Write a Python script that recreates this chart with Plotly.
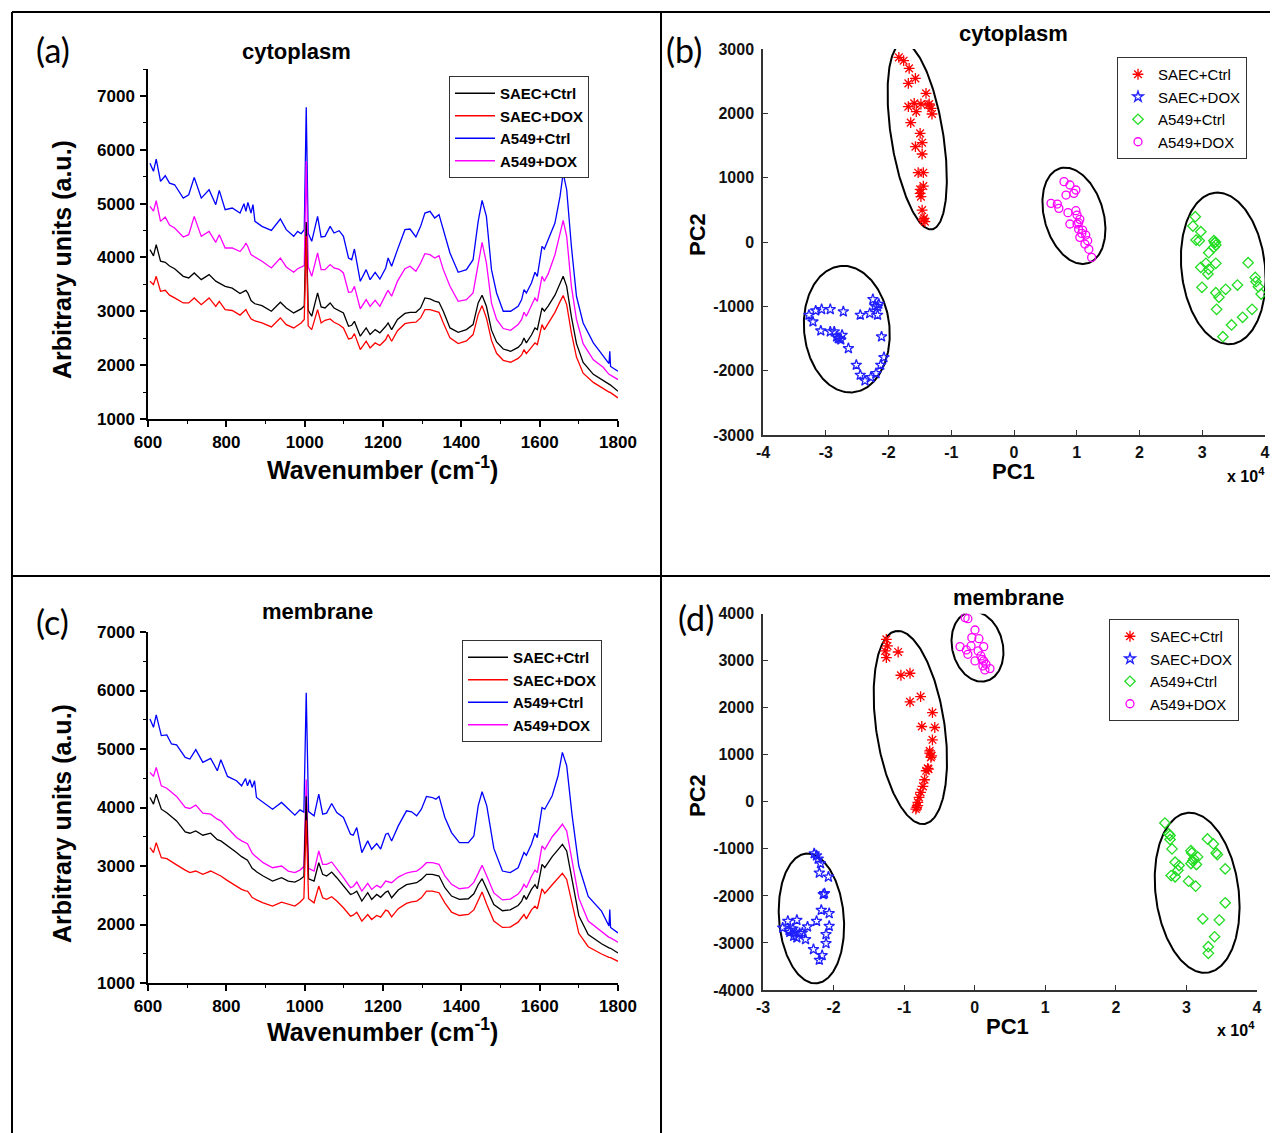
import numpy as np
import plotly.graph_objects as go

# the page shows the figure with an 8 px body margin, so the figure is laid out
# from that origin; all positions below are written as screen pixels.
OFF = 8
FW, FH = 1270, 1125
SANS = "Liberation Sans, Arial, sans-serif"
NARROW = "Liberation Sans Narrow, Liberation Sans, Arial, sans-serif"
LABEL = "Lato, Open Sans, sans-serif"

# ---------------- (a) cytoplasm Raman spectra ----------------
cyto_wn = [605, 614, 621, 632, 644, 655, 668, 690, 704, 718,
           736, 756, 773, 782, 797, 815, 835, 845, 850, 855,
           863, 868, 873, 891, 915, 938, 953, 972, 982, 991,
           999, 1004, 1009, 1018, 1033, 1042, 1052, 1065, 1075, 1088,
           1099, 1112, 1120, 1127, 1142, 1157, 1167, 1180, 1192, 1207,
           1213, 1222, 1237, 1256, 1269, 1284, 1296, 1307, 1320, 1332,
           1343, 1354, 1371, 1392, 1413, 1430, 1443, 1453, 1464, 1477,
           1490, 1507, 1526, 1545, 1554, 1560, 1566, 1579, 1588, 1594,
           1606, 1612, 1622, 1639, 1652, 1660, 1669, 1681, 1694, 1711,
           1737, 1762, 1777, 1779, 1781, 1800]
cyto_a549_ctrl = [5750, 5600, 5827, 5412, 5518, 5381, 5350, 5103, 5165, 5487,
                  5103, 5258, 4980, 5245, 4887, 4918, 4825, 4998, 4857, 5023,
                  4825, 4980, 4670, 4578, 4503, 4714, 4516, 4392, 4485, 4441,
                  4516, 6790, 4450, 4299, 4763, 4380, 4392, 4578, 4454, 4497,
                  4392, 3990, 3959, 4157, 3557, 3774, 3588, 3725, 3600, 3805,
                  3990, 3836, 4145, 4516, 4528, 4380, 4578, 4825, 4857, 4733,
                  4795, 4516, 4083, 3725, 3774, 3959, 4670, 5060, 4763, 3774,
                  3341, 3001, 3001, 3093, 3217, 3403, 3341, 3526, 3725, 3650,
                  4207, 4157, 4330, 4640, 5134, 5567, 5258, 4207, 3279, 2784,
                  2413, 2166, 2030, 2258, 1975, 1887]
cyto_a549_dox = [4950, 4860, 5054, 4670, 4751, 4600, 4547, 4380, 4423, 4763,
                 4392, 4485, 4281, 4423, 4176, 4176, 4110, 4200, 4268, 4200,
                 4052, 4030, 4000, 3930, 3805, 3990, 3824, 3725, 3790, 3824,
                 3850, 5790, 3830, 3650, 4083, 3774, 3774, 3867, 3805, 3780,
                 3712, 3353, 3360, 3464, 3044, 3217, 3093, 3205, 3093, 3310,
                 3390, 3279, 3560, 3790, 3836, 3743, 3898, 4071, 4052, 3990,
                 4034, 3774, 3464, 3186, 3217, 3341, 3898, 4281, 3898, 3150,
                 2850, 2680, 2648, 2753, 2850, 2982, 2908, 3100, 3248, 3186,
                 3650, 3557, 3700, 4050, 4450, 4690, 4392, 3464, 2850, 2400,
                 2100, 1960, 1830, 1825, 1815, 1732]
cyto_saec_ctrl = [4145, 4030, 4238, 3930, 3910, 3840, 3790, 3650, 3619, 3712,
                  3588, 3681, 3560, 3520, 3464, 3430, 3330, 3370, 3390, 3340,
                  3200, 3170, 3140, 3106, 3001, 3168, 3062, 2970, 3010, 3044,
                  3100, 4660, 3020, 2908, 3341, 3081, 3062, 3155, 3062, 3020,
                  2970, 2722, 2740, 2815, 2537, 2691, 2568, 2660, 2600, 2722,
                  2784, 2660, 2850, 2960, 2982, 2982, 3062, 3248, 3230, 3190,
                  3168, 3001, 2691, 2611, 2660, 2753, 3155, 3298, 3093, 2650,
                  2430, 2300, 2258, 2330, 2400, 2506, 2413, 2560, 2691, 2660,
                  3062, 3001, 3100, 3300, 3500, 3650, 3464, 2900, 2400, 2050,
                  1830, 1720, 1640, 1635, 1630, 1516]
cyto_saec_dox = [3557, 3495, 3650, 3372, 3390, 3300, 3250, 3155, 3155, 3248,
                 3124, 3248, 3093, 3186, 3031, 3015, 2930, 2990, 3031, 2960,
                 2860, 2840, 2820, 2784, 2710, 2877, 2753, 2691, 2740, 2784,
                 2850, 4400, 2730, 2660, 3031, 2784, 2834, 2858, 2797, 2750,
                 2691, 2487, 2500, 2586, 2289, 2444, 2320, 2413, 2364, 2475,
                 2568, 2444, 2640, 2770, 2790, 2797, 2877, 3031, 3031, 3000,
                 2982, 2784, 2506, 2401, 2450, 2568, 2939, 3106, 2877, 2460,
                 2220, 2090, 2054, 2125, 2190, 2289, 2215, 2330, 2413, 2382,
                 2753, 2660, 2780, 2980, 3180, 3292, 3124, 2600, 2150, 1850,
                 1680, 1559, 1500, 1497, 1490, 1392]

# ---------------- (c) membrane Raman spectra ----------------
memb_wn = [605, 614, 621, 634, 648, 660, 673, 695, 707, 722,
           740, 760, 777, 786, 803, 826, 839, 849, 854, 860,
           866, 872, 877, 894, 918, 941, 958, 975, 988, 998,
           1004, 1010, 1024, 1036, 1046, 1056, 1069, 1082, 1099, 1117,
           1124, 1133, 1146, 1161, 1171, 1184, 1194, 1207, 1213, 1222,
           1239, 1260, 1273, 1286, 1298, 1311, 1326, 1335, 1343, 1358,
           1375, 1395, 1418, 1432, 1443, 1453, 1465, 1483, 1505, 1525,
           1545, 1554, 1560, 1566, 1579, 1588, 1594, 1606, 1613, 1632,
           1647, 1658, 1669, 1683, 1700, 1724, 1758, 1777, 1779, 1781,
           1800]
memb_a549_ctrl = [5514, 5371, 5583, 5229, 5240, 5086, 5069, 4857, 4829, 4989,
                  4771, 4840, 4629, 4817, 4531, 4457, 4371, 4497, 4371, 4474,
                  4343, 4457, 4171, 4086, 3971, 4086, 3971, 3869, 3960, 3920,
                  5962, 3930, 3857, 4229, 3886, 3903, 4069, 3914, 3829, 3543,
                  3526, 3657, 3229, 3429, 3286, 3383, 3290, 3543, 3560, 3429,
                  3686, 3943, 3926, 3857, 3971, 4189, 4171, 4143, 4189, 3829,
                  3571, 3400, 3400, 3514, 4029, 4269, 4029, 3300, 2914, 2886,
                  2971, 3114, 3229, 3183, 3371, 3560, 3486, 4000, 3971, 4200,
                  4543, 4943, 4714, 3857, 3000, 2480, 2229, 1975, 2257, 1950,
                  1857]
memb_a549_dox = [4600, 4531, 4686, 4371, 4330, 4260, 4189, 4000, 3983, 4040,
                 3903, 3886, 3800, 3771, 3650, 3486, 3430, 3400, 3380, 3300,
                 3220, 3180, 3150, 3057, 2971, 3000, 2914, 2886, 2930, 2990,
                 4480, 2960, 2914, 3257, 3029, 3029, 3069, 2943, 2800, 2629,
                 2650, 2726, 2571, 2703, 2600, 2669, 2630, 2743, 2726, 2714,
                 2810, 2880, 2900, 2914, 2971, 3057, 3057, 3045, 3029, 2829,
                 2686, 2611, 2629, 2720, 2880, 3011, 2829, 2540, 2420, 2435,
                 2520, 2600, 2686, 2629, 2820, 2930, 2886, 3343, 3286, 3500,
                 3620, 3714, 3600, 3050, 2450, 2060, 1870, 1780, 1775, 1770,
                 1697]
memb_saec_ctrl = [4171, 4057, 4229, 3971, 3910, 3840, 3771, 3583, 3560, 3600,
                  3526, 3560, 3450, 3429, 3350, 3229, 3160, 3110, 3100, 3030,
                  2960, 2930, 2900, 2829, 2743, 2800, 2743, 2726, 2770, 2820,
                  4190, 2780, 2743, 3057, 2857, 2829, 2897, 2800, 2669, 2514,
                  2530, 2571, 2400, 2543, 2429, 2514, 2465, 2554, 2571, 2457,
                  2590, 2680, 2700, 2714, 2771, 2857, 2857, 2845, 2829, 2629,
                  2486, 2429, 2440, 2525, 2680, 2783, 2600, 2340, 2235, 2250,
                  2325, 2400, 2497, 2429, 2600, 2680, 2611, 3029, 2971, 3160,
                  3280, 3371, 3257, 2750, 2150, 1830, 1670, 1600, 1597, 1594,
                  1514]
memb_saec_dox = [3314, 3229, 3400, 3143, 3126, 3080, 3020, 2930, 2886, 2914,
                 2857, 2914, 2850, 2829, 2750, 2646, 2600, 2575, 2571, 2520,
                 2460, 2440, 2420, 2371, 2314, 2383, 2343, 2314, 2380, 2450,
                 3780, 2440, 2371, 2657, 2457, 2429, 2474, 2400, 2286, 2143,
                 2160, 2211, 2057, 2171, 2086, 2154, 2125, 2246, 2229, 2131,
                 2270, 2360, 2385, 2400, 2457, 2571, 2571, 2560, 2543, 2371,
                 2211, 2154, 2171, 2250, 2420, 2554, 2343, 2060, 1950, 1955,
                 2040, 2110, 2171, 2097, 2250, 2314, 2269, 2611, 2531, 2680,
                 2790, 2874, 2771, 2340, 1850, 1620, 1495, 1440, 1437, 1434,
                 1371]

# ---------------- (b) cytoplasm PCA scores (PC1 in units of 1e4) ----------------
b_saec_ctrl_pc1 = [-1.835, -1.759, -1.671, -1.571, -1.684, -1.402, -1.684, -1.590, -1.483, -1.370,
                   -1.320, -1.558, -1.307, -1.646, -1.496, -1.571, -1.464, -1.464, -1.527, -1.445,
                   -1.496, -1.445, -1.483, -1.464, -1.433, -1.420, -1.445, -1.496, -1.351]
b_saec_ctrl_pc2 = [2870, 2818, 2699, 2544, 2466, 2311, 2104, 2155, 2145, 2129,
                   2078, 2026, 1990, 1855, 1689, 1482, 1544, 1368, 1077, 1077,
                   818, 870, 704, 497, 368, 316, 342, 756, 2145]
b_saec_dox_pc1 = [-3.267, -3.204, -3.160, -3.066, -3.079, -2.928, -2.928, -2.865, -2.827, -2.783,
                  -2.739, -2.720, -2.639, -2.513, -2.450, -2.450, -2.375, -2.299, -2.280, -2.249,
                  -2.199, -2.218, -2.174, -2.155, -2.111, -2.124, -2.073, -2.174, -2.800, -2.760]
b_saec_dox_pc2 = [-1135, -1239, -1068, -1047, -1379, -1047, -1394, -1394, -1472, -1498,
                  -1446, -1083, -1653, -1912, -1135, -2068, -2156, -1109, -2104, -891,
                  -2042, -995, -1135, -964, -1472, -1912, -1793, -1005, -1500, -1520]
b_a549_ctrl_pc1 = [2.889, 2.851, 2.977, 2.902, 2.952, 3.185, 3.216, 3.185, 3.103, 3.059,
                   2.977, 3.216, 3.103, 3.090, 3.731, 3.844, 2.996, 3.216, 3.266, 3.373,
                   3.561, 3.857, 3.894, 3.938, 3.229, 3.643, 3.794, 3.467, 3.329, 3.200, 3.210]
b_a549_ctrl_pc2 = [393, 248, 160, 31, 20, 20, -47, -83, -166, -332,
                   -394, -332, -425, -498, -322, -550, -705, -788, -860, -736,
                   -669, -617, -695, -809, -1047, -1171, -1047, -1290, -1472, -10, 0]
b_a549_dox_pc1 = [0.797, 0.891, 0.986, 0.829, 0.954, 0.590, 0.690, 0.715, 0.860, 0.986,
                  1.005, 1.049, 0.891, 1.005, 1.030, 1.080, 1.143, 1.049, 1.174, 1.130,
                  1.193, 1.237, 1.030, 1.093]
b_a549_dox_pc2 = [938, 886, 808, 730, 756, 601, 590, 523, 456, 487,
                  419, 352, 280, 280, 197, 134, 108, 72, 20, -32,
                  -114, -239, 300, 186]

# ---------------- (d) membrane PCA scores ----------------
d_saec_ctrl_pc1 = [-1.252, -1.236, -1.269, -1.252, -1.085, -1.046, -0.917, -0.917, -0.767, -0.599,
                   -0.566, -0.750, -0.599, -0.638, -0.621, -0.655, -0.688, -0.711, -0.733, -0.767,
                   -0.789, -0.806, -0.822, -0.834, -0.806, -0.666, -0.638, -0.610]
d_saec_ctrl_pc2 = [3455, 3314, 3208, 3066, 3186, 2691, 2734, 2125, 2239, 1899,
                   1581, 1602, 1319, 1085, 944, 696, 661, 470, 329, 201,
                   95, -11, -117, -153, -82, 711, 1036, 979]
d_saec_dox_pc1 = [-2.274, -2.241, -2.218, -2.185, -2.202, -2.073, -2.146, -2.129, -2.174, -2.062,
                  -2.241, -2.062, -2.369, -2.520, -2.648, -2.721, -2.631, -2.576, -2.537, -2.481,
                  -2.520, -2.442, -2.397, -2.285, -2.107, -2.107, -2.162, -2.202, -2.565, -2.620]
d_saec_dox_pc2 = [-1099, -1142, -1212, -1311, -1509, -1594, -1969, -1948, -2302, -2372,
                  -2535, -2641, -2655, -2514, -2535, -2677, -2726, -2698, -2769, -2797,
                  -2889, -2783, -2924, -3136, -2818, -3009, -3264, -3363, -2853, -2769]
d_a549_ctrl_pc1 = [2.695, 2.751, 2.768, 3.298, 3.382, 3.064, 3.421, 2.768, 2.796, 2.840,
                   2.896, 2.879, 2.784, 2.840, 3.030, 3.064, 3.075, 3.103, 3.142, 3.159,
                   3.131, 3.550, 3.550, 3.232, 3.466, 3.399, 3.310, 3.310, 3.438, 3.090]
d_a549_ctrl_pc2 = [-450, -683, -718, -789, -895, -1037, -1086, -800, -1000, -1283,
                   -1354, -1453, -1566, -1594, -1686, -1311, -1085, -1212, -1333, -1170,
                   -1792, -1425, -2146, -2486, -2514, -2868, -3080, -3221, -1120, -1260]
d_a549_dox_pc1 = [-0.136, -0.097, 0.004, -0.041, 0.060, -0.208, -0.119, -0.097, -0.052, 0.049,
                  0.127, 0.088, 0.127, 0.004, 0.116, 0.144, 0.216, 0.160, 0.104]
d_a549_dox_pc2 = [3915, 3894, 3653, 3491, 3469, 3300, 3229, 3137, 3314, 3208,
                  3300, 3102, 2996, 2996, 2889, 2805, 2833, 2925, 3031]

# group ellipses: major-axis end points (PC1, PC2, PC1, PC2) and minor semi-axis (px)
b_ellipses = [(-1.778, 3089, -1.307, 197, 26.0),
              (0.735, 1146, 1.175, -331, 29.5),
              (3.203, 766, 3.466, -1586, 41.8),
              (-2.765, -373, -2.564, -2337, 42.7)]
d_ellipses = [(-1.113, 3633, -0.711, -469, 34.2),
              (-0.081, 4036, 0.160, 2566, 25.3),
              (3.007, -236, 3.297, -3631, 41.5),
              (-2.387, -1099, -2.241, -3858, 32.4)]

group_names = ["SAEC+Ctrl", "SAEC+DOX", "A549+Ctrl", "A549+DOX"]
spec_colors = ["#000000", "#ff0000", "#0000ff", "#ff00ff"]
pca_colors = ["#ff0000", "#2020ff", "#22dd22", "#ff00ff"]
pca_symbols = ["asterisk-open", "star-open", "diamond-open", "circle-open"]

spec_x_ticks = [600, 800, 1000, 1200, 1400, 1600, 1800]
b_x_ticks = [-4, -3, -2, -1, 0, 1, 2, 3, 4]
b_y_ticks = [-3000, -2000, -1000, 0, 1000, 2000, 3000]
d_x_ticks = [-3, -2, -1, 0, 1, 2, 3, 4]
d_y_ticks = [-4000, -3000, -2000, -1000, 0, 1000, 2000, 3000, 4000]

# panel boxes in screen pixels: (x_left, x_right, y_bottom, y_top)
BOX = {"a": (148, 618, 419, 69), "c": (148, 618, 983, 632),
       "b": (763, 1265, 435, 49), "d": (763, 1257, 990, 613.7)}
RANGE = {"a": ([600, 1800], [1000, 7500]), "c": ([600, 1800], [1000, 7000]),
         "b": ([-4, 4], [-3000, 3000]), "d": ([-3, 4], [-4000, 4000])}


def px(x):
    return (x - OFF) / FW


def py(y):
    return 1 - (y - OFF) / FH


fig = go.Figure()

# ---- spectra ----
spectra = {
    "a": (cyto_wn, [cyto_saec_ctrl, cyto_saec_dox, cyto_a549_ctrl, cyto_a549_dox], "x", "y", "legend"),
    "c": (memb_wn, [memb_saec_ctrl, memb_saec_dox, memb_a549_ctrl, memb_a549_dox], "x3", "y3", "legend3"),
}
draw_order = [2, 3, 0, 1]
for key, (wn, series, xa, ya, lg) in spectra.items():
    for i in draw_order:
        fig.add_trace(go.Scatter(x=wn, y=series[i], mode="lines", name=group_names[i],
                                 line=dict(color=spec_colors[i], width=1.3),
                                 xaxis=xa, yaxis=ya, legend=lg, legendrank=i + 1))

# ---- PCA ----
pca = {
    "b": ([(b_saec_ctrl_pc1, b_saec_ctrl_pc2), (b_saec_dox_pc1, b_saec_dox_pc2),
           (b_a549_ctrl_pc1, b_a549_ctrl_pc2), (b_a549_dox_pc1, b_a549_dox_pc2)],
          b_ellipses, "x2", "y2", "legend2"),
    "d": ([(d_saec_ctrl_pc1, d_saec_ctrl_pc2), (d_saec_dox_pc1, d_saec_dox_pc2),
           (d_a549_ctrl_pc1, d_a549_ctrl_pc2), (d_a549_dox_pc1, d_a549_dox_pc2)],
          d_ellipses, "x4", "y4", "legend4"),
}
for key, (groups, ells, xa, ya, lg) in pca.items():
    xl, xr, yb, yt = BOX[key]
    (x0, x1), (y0, y1) = RANGE[key]
    sx = (xr - xl) / (x1 - x0)
    sy = (yb - yt) / (y1 - y0)
    t = np.linspace(0, 2 * np.pi, 241)
    for (ax1, ay1, ax2, ay2, bpx) in ells:
        X1, Y1, X2, Y2 = ax1 * sx, ay1 * sy, ax2 * sx, ay2 * sy
        cx, cy = (X1 + X2) / 2, (Y1 + Y2) / 2
        a = np.hypot(X1 - X2, Y1 - Y2) / 2
        ux, uy = (X1 - X2) / (2 * a), (Y1 - Y2) / (2 * a)
        vx, vy = -uy, ux
        ex = (cx + a * np.cos(t) * ux + bpx * np.sin(t) * vx) / sx
        ey = (cy + a * np.cos(t) * uy + bpx * np.sin(t) * vy) / sy
        fig.add_trace(go.Scatter(x=ex, y=ey, mode="lines", line=dict(color="black", width=2),
                                 showlegend=False, hoverinfo="skip", xaxis=xa, yaxis=ya))
    for i, (gx, gy) in enumerate(groups):
        fig.add_trace(go.Scatter(x=gx, y=gy, mode="markers", name=group_names[i],
                                 marker=dict(symbol=pca_symbols[i], size=9 if i == 0 else 8,
                                             color=pca_colors[i],
                                             line=dict(color=pca_colors[i], width=1.3)),
                                 xaxis=xa, yaxis=ya, legend=lg))

# ---- axes ----
tickfont_spec = dict(family=SANS, size=17, color="black", weight="bold")
tickfont_pca = dict(family=NARROW, size=16, color="#111111", weight="bold")


def spec_axes(key):
    xl, xr, yb, yt = BOX[key]
    xr_, yr_ = RANGE[key]
    xax = dict(domain=[px(xl), px(xr)], range=xr_, showline=True, linecolor="black", linewidth=1.5,
               ticks="outside", ticklen=6, tickwidth=1.5, tickcolor="black",
               tickmode="array", tickvals=spec_x_ticks, ticktext=[str(v) for v in spec_x_ticks],
               minor=dict(ticks="outside", ticklen=3, tickwidth=1.3, tickcolor="black",
                          tickmode="linear", tick0=600, dtick=100),
               showgrid=False, zeroline=False, tickfont=tickfont_spec, ticklabelstandoff=1,
               automargin=False)
    yax = dict(domain=[py(yb), py(yt)], range=yr_, showline=True, linecolor="black", linewidth=1.5,
               ticks="outside", ticklen=6, tickwidth=1.5, tickcolor="black",
               tickmode="linear", tick0=1000, dtick=1000,
               minor=dict(ticks="outside", ticklen=3, tickwidth=1.3, tickcolor="black",
                          tickmode="linear", tick0=1000, dtick=500),
               showgrid=False, zeroline=False, tickfont=tickfont_spec, ticklabelstandoff=2,
               automargin=False)
    return xax, yax


def pca_axes(key, xt, yt_):
    xl, xr, yb, yt = BOX[key]
    xr_, yr_ = RANGE[key]
    xax = dict(domain=[px(xl), px(xr)], range=xr_, showline=True, linecolor="#333333", linewidth=1.5,
               ticks="inside", ticklen=5, tickwidth=1.2, tickcolor="#333333",
               tickmode="array", tickvals=xt, ticktext=[str(v) for v in xt],
               showgrid=False, zeroline=False, tickfont=tickfont_pca, ticklabelstandoff=2,
               automargin=False)
    yax = dict(domain=[py(yb), py(yt)], range=yr_, showline=True, linecolor="#333333", linewidth=1.5,
               ticks="inside", ticklen=5, tickwidth=1.2, tickcolor="#333333",
               tickmode="array", tickvals=yt_, ticktext=[str(v) for v in yt_],
               showgrid=False, zeroline=False, tickfont=tickfont_pca, ticklabelstandoff=4,
               automargin=False)
    return xax, yax


xa, ya = spec_axes("a")
xc, yc = spec_axes("c")
xb, yb_ = pca_axes("b", b_x_ticks, b_y_ticks)
xd, yd = pca_axes("d", d_x_ticks, d_y_ticks)
xa.update(anchor="y"); ya.update(anchor="x")
xb.update(anchor="y2"); yb_.update(anchor="x2")
xc.update(anchor="y3"); yc.update(anchor="x3")
xd.update(anchor="y4"); yd.update(anchor="x4")


def legend_at(x, y, bold):
    return dict(x=px(x), y=py(y), xanchor="left", yanchor="top", bgcolor="white",
                bordercolor="#333333", borderwidth=1,
                font=dict(family=SANS, size=15, color="black", weight="bold" if bold else "normal"),
                itemwidth=40 if bold else 30, tracegroupgap=0, traceorder="normal")


# ---- text ----
def ann(text, x, y, size, family=SANS, bold=True, angle=0):
    return dict(text=text, x=px(x), y=py(y), xref="paper", yref="paper", showarrow=False,
                xanchor="center", yanchor="middle", textangle=angle,
                font=dict(family=family, size=size, color="black", weight="bold" if bold else "normal"))


annotations = [
    ann("(a)", 53, 50, 34, LABEL, False),
    ann("cytoplasm", 296, 52, 22),
    ann("Arbitrary units (a.u.)", 62, 260, 25, angle=-90),
    ann("Wavenumber (cm<sup>-1</sup>)", 383, 468, 25),
    ann("(c)", 52, 621, 34, LABEL, False),
    ann("membrane", 317, 611, 22),
    ann("Arbitrary units (a.u.)", 62, 824, 25, angle=-90),
    ann("Wavenumber (cm<sup>-1</sup>)", 383, 1030, 25),
    ann("(b)", 684, 50, 34, LABEL, False),
    ann("cytoplasm", 1013, 33, 22),
    ann("PC2", 697, 235, 22, angle=-90),
    ann("PC1", 1014, 472, 22),
    ann("x 10<sup>4</sup>", 1246, 475, 16),
    ann("(d)", 696, 617, 34, LABEL, False),
    ann("membrane", 1009, 597, 22),
    ann("PC2", 697, 796, 22, angle=-90),
    ann("PC1", 1007, 1026, 22),
    ann("x 10<sup>4</sup>", 1236, 1029, 16),
]

frame = dict(color="black", width=2)
shapes = [
    dict(type="line", xref="paper", yref="paper", x0=px(12), x1=1, y0=py(12), y1=py(12), line=frame),
    dict(type="line", xref="paper", yref="paper", x0=px(12), x1=1, y0=py(576), y1=py(576), line=frame),
    dict(type="line", xref="paper", yref="paper", x0=px(12), x1=px(12), y0=0, y1=py(12), line=frame),
    dict(type="line", xref="paper", yref="paper", x0=px(661), x1=px(661), y0=0, y1=py(12), line=frame),
]

fig.update_layout(
    width=FW, height=FH, margin=dict(l=0, r=0, t=0, b=0, pad=0, autoexpand=False),
    paper_bgcolor="white", plot_bgcolor="rgba(0,0,0,0)",
    xaxis=xa, yaxis=ya, xaxis2=xb, yaxis2=yb_, xaxis3=xc, yaxis3=yc, xaxis4=xd, yaxis4=yd,
    legend=legend_at(449, 76, True), legend3=legend_at(462, 640, True),
    legend2=legend_at(1117, 57, False), legend4=legend_at(1109, 619, False),
    annotations=annotations, shapes=shapes, showlegend=True,
)

fig.write_html("out.html")
